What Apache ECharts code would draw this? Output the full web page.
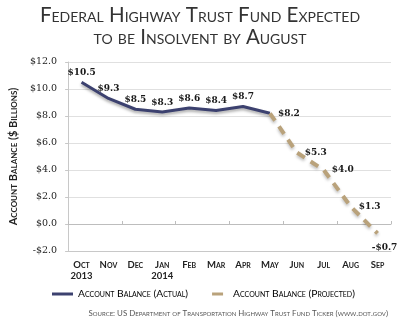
<!DOCTYPE html>
<html><head><meta charset="utf-8">
<script src="https://cdn.jsdelivr.net/npm/echarts@6/dist/echarts.min.js"></script>
<style>html,body{margin:0;padding:0;background:#fff}#c{width:400px;height:325px}</style>
</head><body><div id="c"></div>
<script>
var categories = ['Oct\n2013','Nov','Dec','Jan\n2014','Feb','Mar','Apr','May','Jun','Jul','Aug','Sep'];
var actualValues = [10.5, 9.3, 8.5, 8.3, 8.6, 8.4, 8.7, 8.2, null, null, null, null];
var projectedValues = [null, null, null, null, null, null, null, 8.2, 5.3, 4.0, 1.3, -0.7];
var yTicks = [-2, 0, 2, 4, 6, 8, 10, 12];
var titleText = 'Federal Highway Trust Fund Expected\nto be Insolvent by August';
var yName = 'Account Balance ($ Billions)';
var seriesNames = ['Account Balance (Actual)', 'Account Balance (Projected)'];
var sourceText = 'Source: US Department of Transportation Highway Trust Fund Ticker (www.dot.gov)';

function money(v){ return (v < 0 ? '-$' : '$') + Math.abs(v).toFixed(1); }
var SANS = 'Lato, "Open Sans", sans-serif';
var SERIF = '"DejaVu Serif", "Liberation Serif", serif';
var NAVY = '#3c416f', TAN = '#b9a27b';

var actualData = actualValues.map(function(v, i){
  if (v === null) return null;
  if (i === 7) return {value: v, label: {show: false}};
  return {value: v};
});
var projData = projectedValues.map(function(v, i){
  if (v === null) return null;
  if (i === projectedValues.length - 1) return {value: v, label: {position: 'bottom', offset: [7, 2]}};
  return {value: v};
});

var labelStyle = {show: true, formatter: function(p){ return money(p.value); }, fontFamily: SERIF, fontWeight: 'bold', fontSize: 9, color: '#1a1a1a'};

var chart = echarts.init(document.getElementById('c'), null, {renderer: 'canvas'});
chart.setOption({
  animation: false,
  title: {text: titleText, left: 'center', top: -1,
    textStyle: {fontFamily: SANS, fontStyle: 'small-caps', fontWeight: 'normal', fontSize: 20.5, lineHeight: 22, color: '#333'}},
  grid: {left: 63, right: 9, top: 62, bottom: 74},
  legend: {left: 47, top: 284, itemGap: 24, itemWidth: 21, itemHeight: 3,
    textStyle: {fontFamily: SANS, fontStyle: 'small-caps', fontWeight: 'normal', fontSize: 10.3, color: '#000'},
    data: [{name: seriesNames[0], icon: 'rect', itemStyle: {color: NAVY}},
           {name: seriesNames[1], icon: 'path://M0,0h11v3h-11z', itemStyle: {color: TAN}}]},
  graphic: [{type: 'text', right: 12, top: 309,
    style: {text: sourceText, fontFamily: SANS, fontStyle: 'small-caps', fontSize: 7.9, fill: '#555'}}],
  xAxis: [
    {type: 'category', data: categories, boundaryGap: true,
     axisLine: {onZero: false, lineStyle: {color: '#c8c8c8'}},
     axisTick: {show: false},
     axisLabel: {fontFamily: SANS, fontStyle: 'small-caps', fontWeight: 'bold', fontSize: 9.5, color: '#222', lineHeight: 11, margin: 8, interval: 0, align: 'center'}},
    {type: 'category', data: categories, boundaryGap: true, position: 'bottom',
     axisLine: {onZero: true, lineStyle: {color: '#bdbdbd'}},
     axisTick: {show: true, inside: true, length: 3, lineStyle: {color: '#bdbdbd'}},
     axisLabel: {show: false}}
  ],
  yAxis: {type: 'value', min: yTicks[0], max: yTicks[yTicks.length-1], interval: 2,
    name: yName, nameLocation: 'middle', nameGap: 47, nameRotate: 90,
    nameTextStyle: {fontFamily: SANS, fontStyle: 'small-caps', fontWeight: 'bold', fontSize: 11, color: '#222'},
    axisLine: {show: true, lineStyle: {color: '#c8c8c8'}},
    axisTick: {show: true, length: 3, lineStyle: {color: '#c8c8c8'}},
    splitLine: {lineStyle: {color: '#e0e0e0'}},
    axisLabel: {formatter: money, fontFamily: SERIF, fontSize: 9.5, color: '#222', margin: 11}},
  series: [
    {name: seriesNames[0], type: 'line', data: actualData, xAxisIndex: 0, showSymbol: true, symbol: 'circle', symbolSize: 0, connectNulls: false,
     lineStyle: {color: NAVY, width: 3, shadowColor: 'rgba(0,0,0,0.35)', shadowBlur: 3, shadowOffsetY: 2},
     itemStyle: {color: NAVY},
     label: Object.assign({position: 'top', distance: 5}, labelStyle)},
    {name: seriesNames[1], type: 'line', data: projData, xAxisIndex: 0, showSymbol: true, symbol: 'circle', symbolSize: 0,
     lineStyle: {color: TAN, width: 4, type: [9, 7], shadowColor: 'rgba(0,0,0,0.25)', shadowBlur: 3, shadowOffsetY: 2},
     itemStyle: {color: TAN},
     label: Object.assign({position: 'right', distance: 8}, labelStyle)}
  ]
});
</script></body></html>
